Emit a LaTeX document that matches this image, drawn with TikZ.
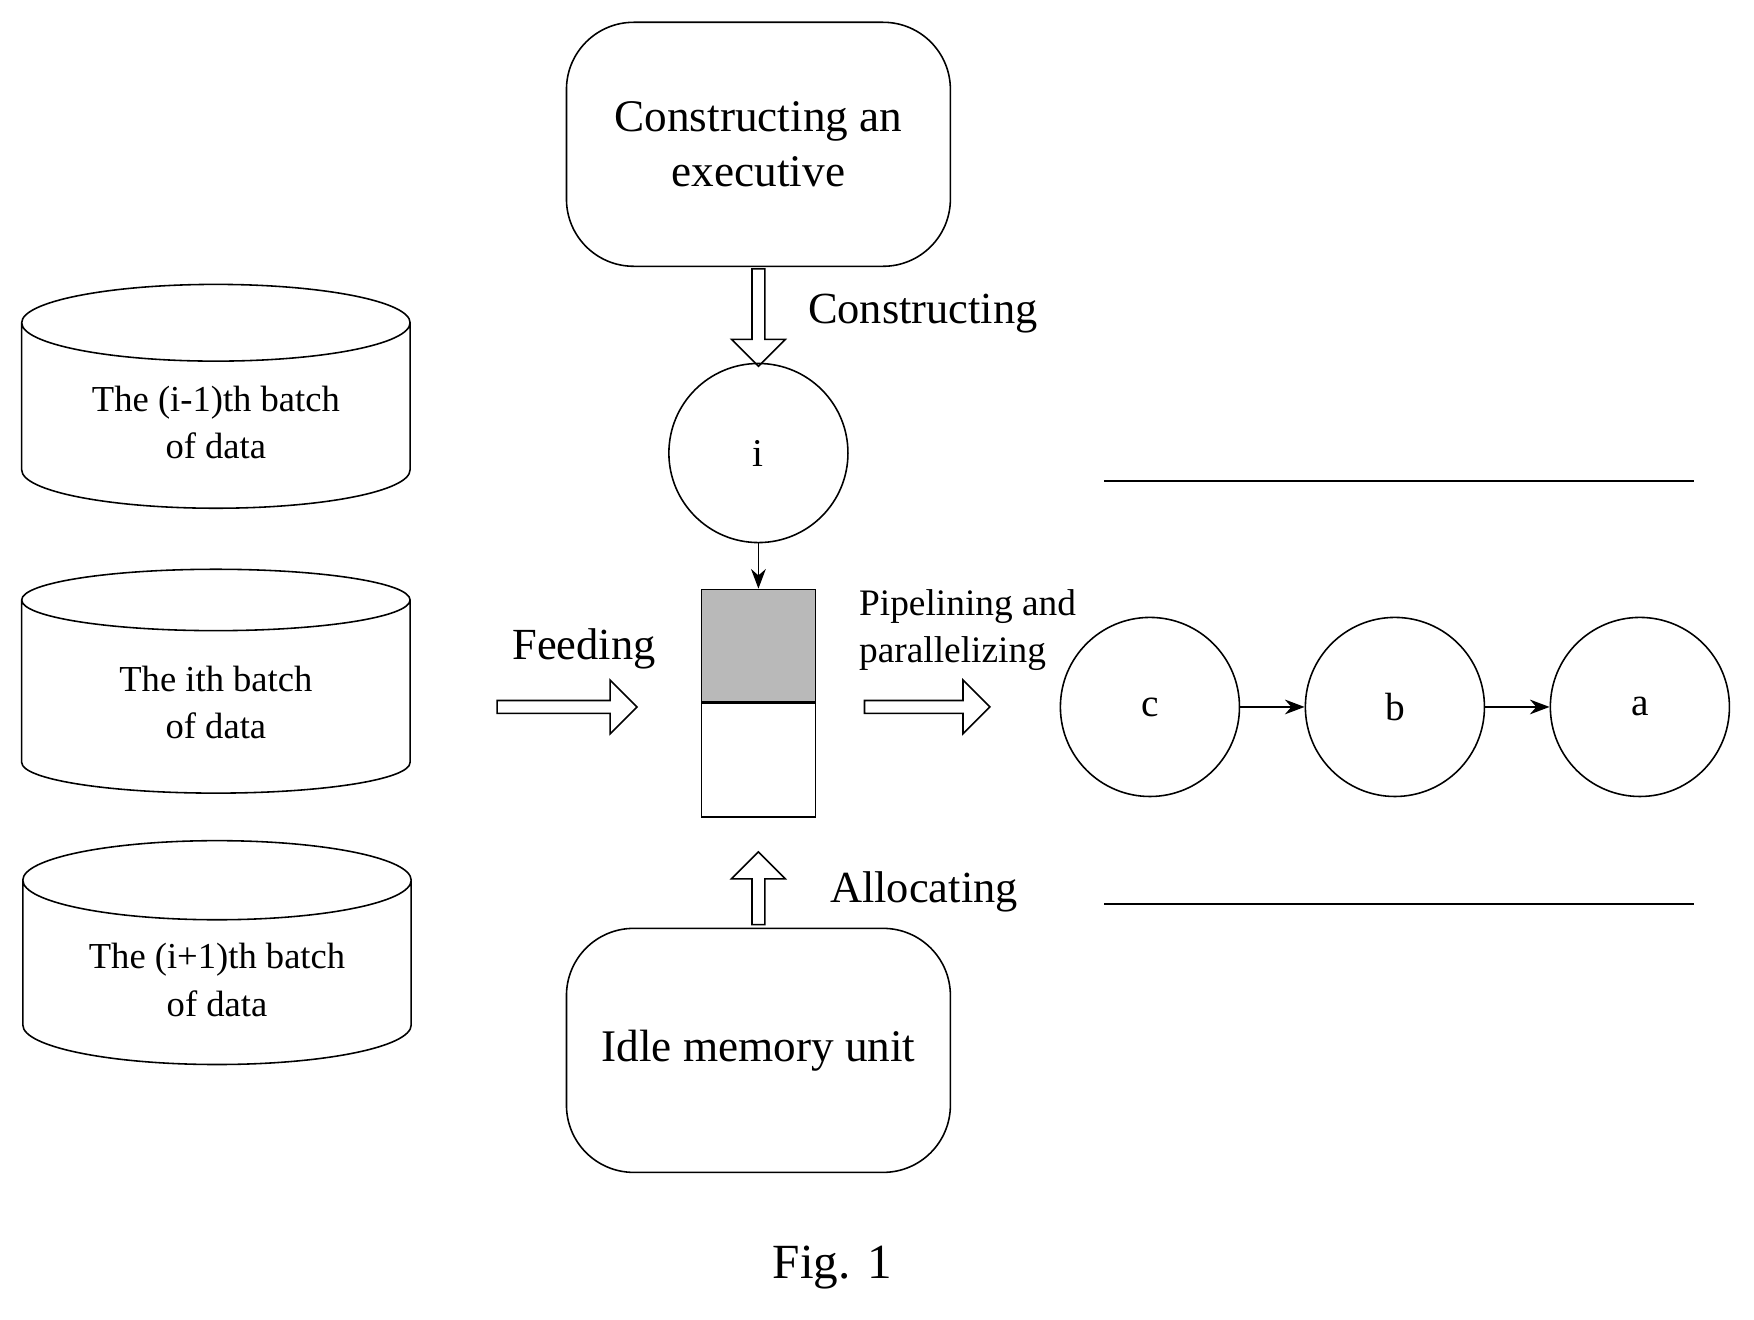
\documentclass[tikz,border=0pt]{standalone}
\usepackage{fontspec}
\setmainfont{Liberation Serif}
\usepackage{tikz}
\usetikzlibrary{shapes.geometric, shapes.arrows, arrows.meta, positioning, calc}

\begin{document}
\begin{tikzpicture}[x=0.01cm, y=-0.01cm,
    box/.style={draw, rounded corners=0.6cm, minimum width=3.43cm, minimum height=2.18cm, align=center, font=\fontsize{11.5}{14}\selectfont},
    disk/.style={draw, cylinder, shape border rotate=90, aspect=0.28, minimum width=3.47cm, minimum height=2cm, align=center, font=\fontsize{9.3}{12}\selectfont},
    task/.style={draw, circle, minimum size=1.6cm, font=\fontsize{10}{12}\selectfont},
    hollow/.style={draw, single arrow, single arrow head extend=0.1cm, minimum height=1.2cm, minimum width=0.48cm, inner sep=0.7pt},
    label/.style={font=\fontsize{11.3}{13}\selectfont},
    arrow/.style={-{Stealth[length=5pt]}}
]
    \useasboundingbox (0,0) rectangle (1568,1180);

    % Executive and memory
    \node[box] (exec) at (678,129) {Constructing an\\executive};
    \node[box] (idle) at (678,939) {Idle memory unit};
    \node[task] (i) at (678,405) {i};
    \node[draw, minimum width=1.02cm, minimum height=1cm, fill=gray!55, inner sep=0] (full) at (678,577) {};
    \node[draw, minimum width=1.02cm, minimum height=1.02cm, inner sep=0, below=0cm of full] (free) {};

    \node[hollow, rotate=-90, minimum height=0.87cm] (down) at (678,281) {};
    \node[label] at (825,280) {Constructing};
    \draw[arrow] (i) -- (full);
    \node[hollow, rotate=90, minimum height=0.65cm] (up) at (678,797) {};
    \node[label] at (826,797) {Allocating};

    % Batches of data
    \node[disk] (prev) at (193,378) {The (i-1)th batch\\of data};
    \node[disk] (cur) at (193,628) {The ith batch\\of data};
    \node[disk] (next) at (194,876) {The (i+1)th batch\\of data};

    \node[hollow, minimum height=1.25cm] (feed) at (504,632) {};
    \node[label] at (522,580) {Feeding};
    \node[hollow, minimum height=1.12cm] (pipe) at (826,632) {};
    \node[align=left, font=\fontsize{9.5}{12}\selectfont] at (865,563) {Pipelining and\\parallelizing};

    % Pipeline stages
    \node[task] (c) at (1028,632) {c};
    \node[task] (b) at (1247,632) {b};
    \node[task] (a) at (1466,632) {a};
    \draw[arrow] (c) -- (b);
    \draw[arrow] (b) -- (a);

    \coordinate (l1) at (987,430);
    \coordinate (r1) at (1514,430);
    \coordinate (l2) at (987,808);
    \coordinate (r2) at (1514,808);
    \draw (l1) -- (r1);
    \draw (l2) -- (r2);

    \node[font=\fontsize{12.5}{15}\selectfont] at (744,1133) {Fig. 1};
\end{tikzpicture}
\end{document}
